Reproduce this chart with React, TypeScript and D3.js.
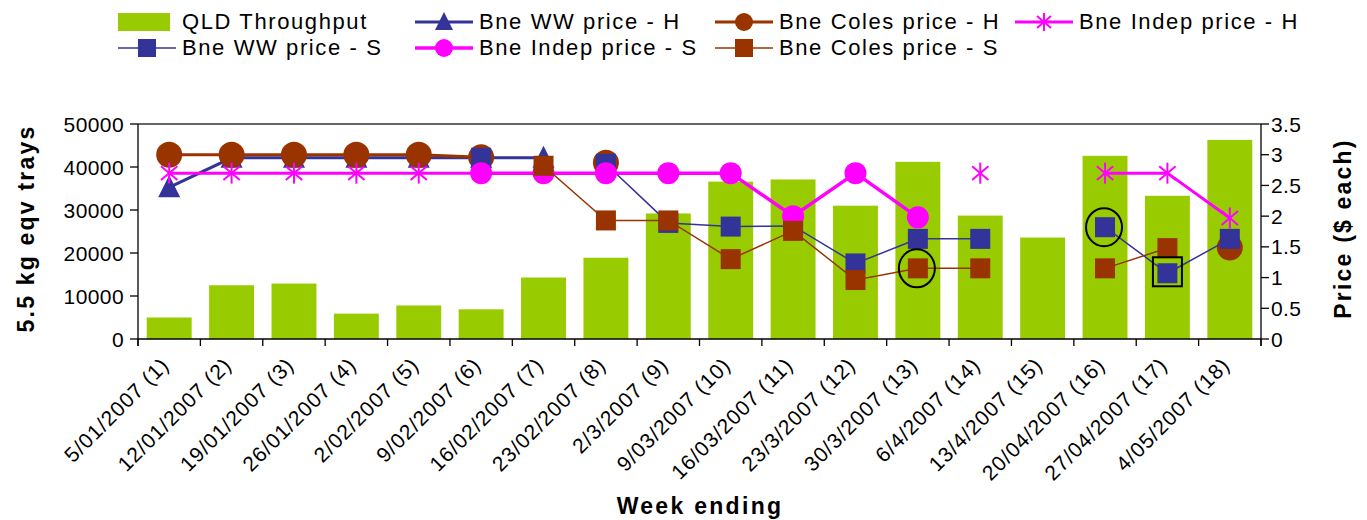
import React from 'react';
import * as d3 from 'd3';

const categories = [
  '5/01/2007 (1)', '12/01/2007 (2)', '19/01/2007 (3)', '26/01/2007 (4)', '2/02/2007 (5)',
  '9/02/2007 (6)', '16/02/2007 (7)', '23/02/2007 (8)', '2/3/2007 (9)', '9/03/2007 (10)',
  '16/03/2007 (11)', '23/3/2007 (12)', '30/3/2007 (13)', '6/4/2007 (14)', '13/4/2007 (15)',
  '20/04/2007 (16)', '27/04/2007 (17)', '4/05/2007 (18)',
];

const throughput = [5000, 12500, 12900, 5900, 7800, 6900, 14300, 18900, 29200, 36600, 37100, 31000, 41200, 28700, 23600, 42600, 33300, 46300];

type V = number | null;
const wwH: V[] = [2.47, 2.95, 2.95, 2.95, 2.95, 2.95, 2.95, null, null, null, null, null, null, null, null, null, null, null];
const colesH: V[] = [3.0, 3.0, 3.0, 3.0, 3.0, 2.96, null, 2.87, null, null, null, null, null, null, null, null, null, 1.49];
const indepH: V[] = [2.7, 2.7, 2.7, 2.7, 2.7, 2.7, null, null, null, null, null, null, null, 2.7, null, 2.7, 2.7, 1.97];
const wwS: V[] = [null, null, null, null, null, 2.95, null, 2.85, 1.89, 1.83, 1.84, 1.23, 1.63, 1.63, null, 1.82, 1.07, 1.63];
const indepS: V[] = [null, null, null, null, null, 2.7, 2.7, 2.7, 2.7, 2.7, 2.0, 2.7, 1.98, null, null, null, null, null];
const colesS: V[] = [null, null, null, null, null, null, 2.82, 1.93, 1.93, 1.3, 1.76, 0.96, 1.15, 1.15, null, 1.15, 1.48, null];

const leftTicks = [0, 10000, 20000, 30000, 40000, 50000];
const rightTicks = [0, 0.5, 1, 1.5, 2, 2.5, 3, 3.5];

const barName = 'QLD Throughput';
const barColor = '#99CC00';
const NAVY = '#333399';
const BROWN = '#993300';
const MAGENTA = '#FF00FF';

type Marker = 'triangle' | 'circle' | 'star' | 'square';
interface Series { name: string; values: V[]; color: string; width: number; marker: Marker; size: number; }

// series in drawing (and legend) order
const series: Series[] = [
  { name: 'Bne WW price - H', values: wwH, color: NAVY, width: 3, marker: 'triangle', size: 22 },
  { name: 'Bne Coles price - H', values: colesH, color: BROWN, width: 3, marker: 'circle', size: 26 },
  { name: 'Bne Indep price - H', values: indepH, color: MAGENTA, width: 3, marker: 'star', size: 21 },
  { name: 'Bne WW price - S', values: wwS, color: NAVY, width: 1.5, marker: 'square', size: 20 },
  { name: 'Bne Indep price - S', values: indepS, color: MAGENTA, width: 3.5, marker: 'circle', size: 22 },
  { name: 'Bne Coles price - S', values: colesS, color: BROWN, width: 1.5, marker: 'square', size: 20 },
];

// legend arrangement: [row, col] per item (0 = bars)
const legendSlots: [number, number][] = [[0, 0], [0, 1], [0, 2], [0, 3], [1, 0], [1, 1], [1, 2]];

const FONT = 'Liberation Sans, Arial, sans-serif';

function MarkerShape({ type, size, color, x, y }: { type: Marker; size: number; color: string; x: number; y: number }) {
  const h = size / 2;
  if (type === 'circle') return <circle cx={x} cy={y} r={h} fill={color} />;
  if (type === 'square') return <rect x={x - h} y={y - h} width={size} height={size} fill={color} />;
  if (type === 'triangle') {
    const p = `${x},${y - size * 0.55} ${x + h},${y + size * 0.45} ${x - h},${y + size * 0.45}`;
    return <polygon points={p} fill={color} />;
  }
  const d = h * 0.78;
  return (
    <g stroke={color} strokeWidth={2}>
      <line x1={x} y1={y - h} x2={x} y2={y + h} />
      <line x1={x - d} y1={y - d * 0.85} x2={x + d} y2={y + d * 0.85} />
      <line x1={x - d} y1={y + d * 0.85} x2={x + d} y2={y - d * 0.85} />
    </g>
  );
}

export default function App() {
  const W = 1367;
  const H = 520;
  const m = { left: 138, right: 1261, top: 124, bottom: 339 };

  const x = d3.scaleBand<string>().domain(categories).range([m.left, m.right]).paddingInner(0.28).paddingOuter(0.14);
  const yL = d3.scaleLinear().domain([0, 50000]).range([m.bottom, m.top]);
  const yR = d3.scaleLinear().domain([0, 3.5]).range([m.bottom, m.top]);
  const cx = (i: number) => (x(categories[i]) as number) + x.bandwidth() / 2;
  const step = x.step();
  const boundaries = d3.range(categories.length + 1).map((i) => m.left + i * step);

  const lineGen = d3
    .line<V>()
    .defined((v) => v != null)
    .x((_, i) => cx(i))
    .y((v) => yR(v as number));

  const legendColX = [118, 415, 715, 1015];
  const legendRowY = [21, 47];

  const annCircles = [
    { i: 12, v: colesS[12] as number },
    { i: 15, v: wwS[15] as number },
  ];
  const annSquares = [{ i: 16, v: wwS[16] as number }];

  return (
    <div style={{ position: 'absolute', left: 0, top: 0 }}>
      <svg width={W} height={H} style={{ display: 'block', background: '#fff' }} fontFamily={FONT}>
        {/* legend */}
        {[{ kind: 'bar' as const }, ...series.map((s) => ({ kind: 'line' as const, s }))].map((item, k) => {
          const [row, col] = legendSlots[k];
          const x0 = legendColX[col];
          const yy = legendRowY[row];
          const tx = x0 + 64;
          if (item.kind === 'bar') {
            return (
              <g key={k}>
                <rect x={x0} y={yy - 8} width={52} height={18} fill={barColor} />
                <text x={tx} y={yy} dominantBaseline="central" fontSize={22} letterSpacing={1.6}>{barName}</text>
              </g>
            );
          }
          const s = item.s;
          return (
            <g key={k}>
              <line x1={x0} x2={x0 + 58} y1={yy + 1} y2={yy + 1} stroke={s.color} strokeWidth={s.width} />
              <MarkerShape type={s.marker} size={18} color={s.color} x={x0 + 29} y={yy + 1} />
              <text x={tx} y={yy} dominantBaseline="central" fontSize={22} letterSpacing={1.6}>{s.name}</text>
            </g>
          );
        })}

        {/* bars */}
        {throughput.map((v, i) => (
          <rect key={i} x={x(categories[i])} y={yL(v)} width={x.bandwidth()} height={yL(0) - yL(v)} fill={barColor} />
        ))}

        {/* frame */}
        <line x1={m.left} x2={m.right} y1={m.top} y2={m.top} stroke="#333" strokeWidth={1.3} />
        <line x1={m.left} x2={m.left} y1={m.top} y2={m.bottom + 7} stroke="#000" strokeWidth={1.3} />
        <line x1={m.right} x2={m.right} y1={m.top} y2={m.bottom + 7} stroke="#000" strokeWidth={1.3} />
        <line x1={m.left} x2={m.right} y1={m.bottom} y2={m.bottom} stroke="#000" strokeWidth={1.3} />

        {/* left axis */}
        {leftTicks.map((t) => (
          <g key={t}>
            <line x1={m.left - 8} x2={m.left} y1={yL(t)} y2={yL(t)} stroke="#000" strokeWidth={1.3} />
            <text x={m.left - 14} y={yL(t)} textAnchor="end" dominantBaseline="central" fontSize={21} letterSpacing={0.4}>{t}</text>
          </g>
        ))}
        {/* right axis */}
        {rightTicks.map((t) => (
          <g key={t}>
            <line x1={m.right} x2={m.right + 8} y1={yR(t)} y2={yR(t)} stroke="#000" strokeWidth={1.3} />
            <text x={m.right + 10} y={yR(t)} dominantBaseline="central" fontSize={21} letterSpacing={0.4}>{t}</text>
          </g>
        ))}
        {/* bottom ticks */}
        {boundaries.map((bx, i) => (
          <line key={i} x1={bx} x2={bx} y1={m.bottom} y2={m.bottom + 7} stroke="#000" strokeWidth={1.3} />
        ))}
        {/* category labels */}
        {categories.map((c, i) => (
          <text
            key={c}
            transform={`translate(${cx(i) - 4},${m.bottom + 22}) rotate(-45)`}
            textAnchor="end"
            dominantBaseline="central"
            fontSize={21}
            letterSpacing={1}
          >
            {c}
          </text>
        ))}

        {/* price series */}
        {series.map((s, si) => (
          <g key={si}>
            <path d={lineGen(s.values) || ''} fill="none" stroke={s.color} strokeWidth={s.width} />
            {s.values.map((v, i) =>
              v == null ? null : <MarkerShape key={i} type={s.marker} size={s.size} color={s.color} x={cx(i)} y={yR(v)} />
            )}
          </g>
        ))}

        {/* annotations */}
        {annCircles.map((a, k) => (
          <ellipse key={k} cx={cx(a.i) - 1} cy={yR(a.v)} rx={18} ry={19} fill="none" stroke="#000" strokeWidth={2} />
        ))}
        {annSquares.map((a, k) => (
          <rect key={k} x={cx(a.i) - 14.5} y={yR(a.v) - 16} width={29} height={29} fill="none" stroke="#000" strokeWidth={2} />
        ))}

        {/* axis titles */}
        <text transform={`translate(26,${(m.top + m.bottom) / 2 - 3}) rotate(-90)`} textAnchor="middle" dominantBaseline="central" fontSize={23} fontWeight="bold" letterSpacing={2.2}>
          5.5 kg eqv trays
        </text>
        <text transform={`translate(1343,${(m.top + m.bottom) / 2 - 3}) rotate(-90)`} textAnchor="middle" dominantBaseline="central" fontSize={23} fontWeight="bold" letterSpacing={2.2}>
          Price ($ each)
        </text>
        <text x={700} y={506} textAnchor="middle" dominantBaseline="central" fontSize={23} fontWeight="bold" letterSpacing={2.3}>
          Week ending
        </text>
      </svg>
    </div>
  );
}
